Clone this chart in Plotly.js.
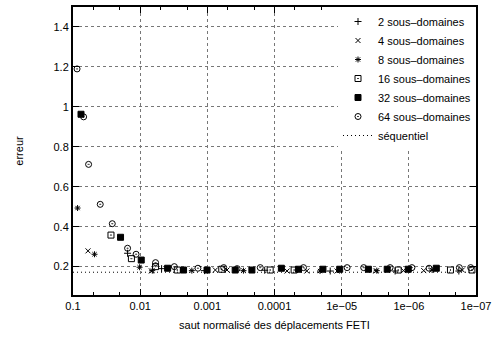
<!DOCTYPE html>
<html><head><meta charset="utf-8">
<script src="https://cdn.plot.ly/plotly-3.0.1.min.js"></script>
<style>html,body{margin:0;padding:0;background:#fff}#chart{width:499px;height:343px}</style>
</head><body><div id="chart"></div>
<script>
// Data (x = normalised FETI displacement jump, y = error)
const x2  = [0.0154, 0.0048, 0.0011, 0.00014, 1.48e-5, 1.6e-6, 1.8e-7];
const y2  = [0.267, 0.19, 0.18, 0.182, 0.178, 0.178, 0.178];
const x4  = [0.0598, 0.0068, 0.00076, 0.00051, 6.5e-5, 3.3e-5, 1.17e-5, 3.1e-6, 1.2e-6, 6e-7, 1.6e-7];
const y4  = [0.279, 0.178, 0.183, 0.183, 0.178, 0.178, 0.178, 0.178, 0.18, 0.18, 0.183];
const x8  = [0.0855, 0.0478, 0.0102, 0.0066, 0.0017, 0.00029, 2.1e-5, 3.0e-6, 4.5e-7];
const y8  = [0.4935, 0.262, 0.197, 0.18, 0.18, 0.18, 0.178, 0.18, 0.183];
const x16 = [0.0272, 0.0135, 0.0059, 0.0028, 0.00061, 0.000116, 5.1e-5, 1.44e-6, 2.4e-7, 1.15e-7];
const y16 = [0.358, 0.24, 0.2, 0.183, 0.187, 0.183, 0.183, 0.183, 0.183, 0.183];
const x32 = [0.076, 0.0196, 0.00964, 0.0039, 0.00226, 0.00101, 0.000385, 0.000217, 7.9e-5, 4.4e-5, 1.9e-5, 1.07e-5, 4.0e-6, 2.1e-6, 1.02e-6, 3.9e-7];
const y32 = [0.963, 0.347, 0.233, 0.192, 0.183, 0.183, 0.183, 0.183, 0.192, 0.187, 0.187, 0.187, 0.187, 0.187, 0.187, 0.192];
const x64 = [0.087, 0.0695, 0.0586, 0.0393, 0.026, 0.0154, 0.0115, 0.0059, 0.0031, 0.00138, 0.00057, 0.00036, 0.000163, 3.7e-5, 8.3e-6, 4.7e-6, 1.9e-6, 9e-7, 5e-7, 1.77e-7, 1.2e-7];
const y64 = [1.19, 0.95, 0.712, 0.512, 0.415, 0.292, 0.262, 0.22, 0.2, 0.192, 0.195, 0.19, 0.195, 0.195, 0.195, 0.195, 0.195, 0.195, 0.192, 0.195, 0.195];
const xSeq = [0.1, 1e-7];
const ySeq = [0.172, 0.172];
const names = ["2 sous–domaines", "4 sous–domaines", "8 sous–domaines", "16 sous–domaines", "32 sous–domaines", "64 sous–domaines", "séquentiel"];
const xTickVals = [0.1, 0.01, 0.001, 0.0001, 1e-5, 1e-6, 1e-7];
const xTickText = ["0.1", "0.01", "0.001", "0.0001", "1e−05", "1e−06", "1e−07"];
const yTickVals = [0.2, 0.4, 0.6, 0.8, 1, 1.2, 1.4];
const yTickText = ["0.2", "0.4", "0.6", "0.8", "1", "1.2", "1.4"];

const series = [
  [x2, y2, "cross-thin-open", 5],
  [x4, y4, "x-thin-open", 5],
  [x8, y8, "asterisk-open", 5],
  [x16, y16, "square-open-dot", 6],
  [x32, y32, "square", 6],
  [x64, y64, "circle-open-dot", 6]
];
const traces = series.map((s, i) => ({
  x: s[0], y: s[1], name: names[i], type: "scatter", mode: "markers",
  marker: {symbol: s[2], size: s[3], color: "#000", line: {color: "#000", width: 1}},
  cliponaxis: false
}));
traces.push({x: xSeq, y: ySeq, name: names[6], type: "scatter", mode: "lines",
  line: {color: "#000", width: 1, dash: "1px,3px"}});

const font = {family: "Liberation Sans, Arial, sans-serif", size: 11, color: "#000"};
const layout = {
  width: 499, height: 343,
  margin: {l: 73, r: 23, t: 7, b: 48},
  paper_bgcolor: "#fff", plot_bgcolor: "#fff",
  font: font,
  showlegend: true,
  legend: {x: 1, xanchor: "right", y: 1, yanchor: "top", bgcolor: "#fff",
    borderwidth: 0, font: font, tracegroupgap: 0, itemwidth: 30},
  xaxis: {
    type: "log", range: [-1, -7], tickmode: "array",
    tickvals: xTickVals, ticktext: xTickText,
    ticks: "inside", ticklen: 6, tickwidth: 1, tickcolor: "#000",
    showline: true, linewidth: 2, linecolor: "#000", mirror: "ticks",
    showgrid: true, gridcolor: "#777", griddash: "dot", gridwidth: 1,
    zeroline: false,
    minor: {ticks: "inside", ticklen: 3, tickcolor: "#000", dtick: "D2", showgrid: false},
    title: {text: "saut normalisé des déplacements FETI", font: font, standoff: 10},
    automargin: false, tickfont: font
  },
  yaxis: {
    range: [0.058, 1.5], tickmode: "array",
    tickvals: yTickVals, ticktext: yTickText,
    ticks: "inside", ticklen: 6, tickwidth: 1, tickcolor: "#000",
    showline: true, linewidth: 2, linecolor: "#000", mirror: "ticks",
    showgrid: true, gridcolor: "#777", griddash: "dot", gridwidth: 1,
    zeroline: false,
    title: {text: "erreur", font: font, standoff: 28},
    automargin: false, tickfont: font
  }
};
Plotly.newPlot("chart", traces, layout, {displayModeBar: false, staticPlot: true});
</script>
</body></html>
